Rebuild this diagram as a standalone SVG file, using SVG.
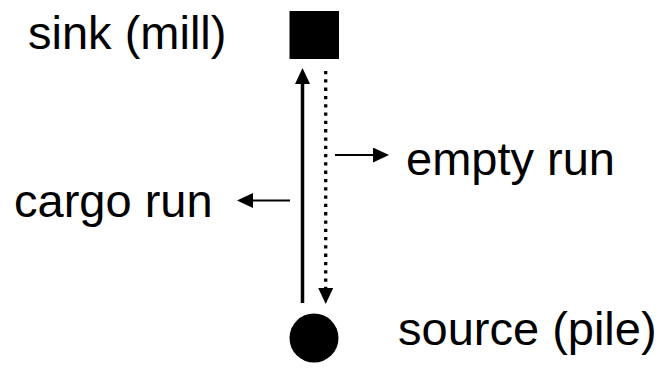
<svg xmlns="http://www.w3.org/2000/svg" width="666" height="371" viewBox="0 0 666 371">
<style>
.lbl{font-family:"Liberation Sans",Arial,sans-serif;font-size:47px;fill:#000}
.ln{stroke:#000;fill:none}
</style>
<defs>
<marker id="ah" markerUnits="userSpaceOnUse" markerWidth="16" markerHeight="15" refX="0" refY="7.5" orient="auto" viewBox="0 0 16 15">
<path d="M0,0 L16,7.5 L0,15 z" fill="#000"/>
</marker>
</defs>
<rect width="666" height="371" fill="#fff"/>
<g id="sink">
<rect x="289.5" y="11" width="49.5" height="48" fill="#000"/>
<text class="lbl" x="28" y="49">sink (mill)</text>
</g>
<g id="source">
<circle cx="314" cy="338" r="24.5" fill="#000"/>
<text class="lbl" x="398" y="345">source (pile)</text>
</g>
<g id="cargo-label">
<text class="lbl" x="14" y="217">cargo run</text>
</g>
<g id="empty-label">
<text class="lbl" x="406" y="175">empty run</text>
</g>
<g id="connectors">
<line class="ln" x1="302.5" y1="303" x2="302.5" y2="84" stroke-width="3.5" marker-end="url(#ah)"/>
<line class="ln" x1="325.7" y1="71" x2="325.7" y2="288" stroke-width="3.3" stroke-dasharray="3.3 5" marker-end="url(#ah)"/>
<line class="ln" x1="335" y1="155" x2="373" y2="155" stroke-width="1.8" marker-end="url(#ah)"/>
<line class="ln" x1="290" y1="200.5" x2="253" y2="200.5" stroke-width="1.8" marker-end="url(#ah)"/>
</g>
</svg>
